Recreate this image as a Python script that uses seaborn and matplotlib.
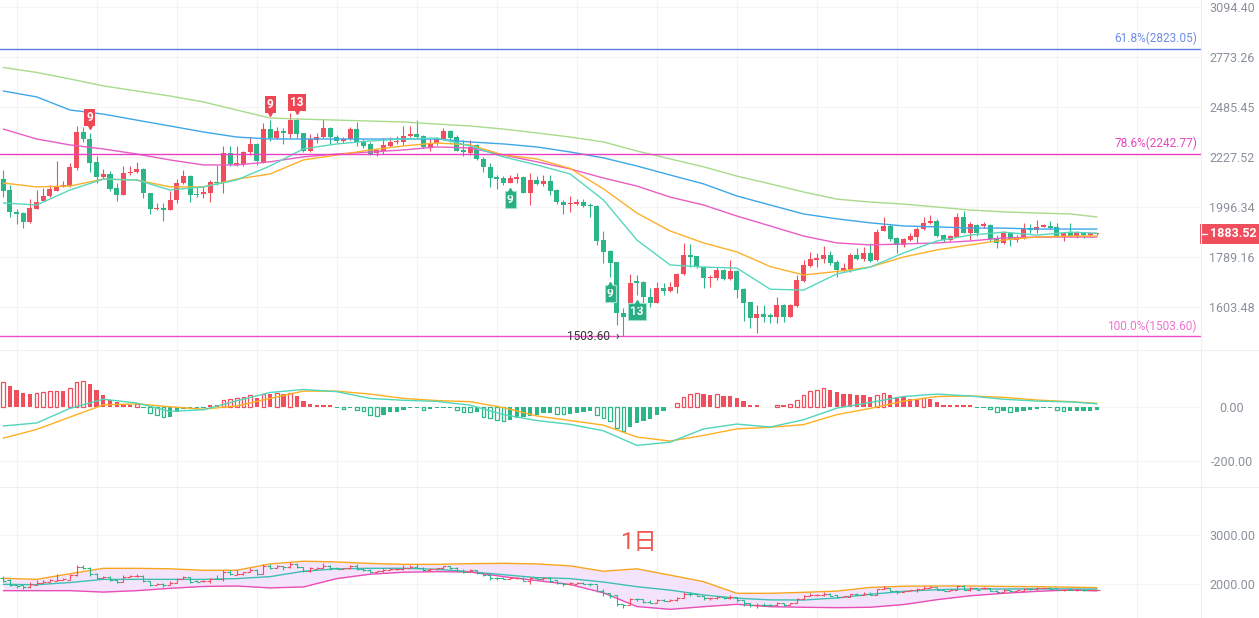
import numpy as np
import seaborn as sns
import matplotlib
matplotlib.use('Agg')
import matplotlib.pyplot as plt
import matplotlib.transforms as mtransforms
from matplotlib.ticker import NullLocator
from matplotlib.lines import Line2D
from matplotlib.patches import Rectangle

# ---------------------------------------
# daily candles
opens = [2122, 2072, 1974, 1970, 1932, 1988, 2022, 2045, 2068, 2086, 2090, 2175, 2353, 2317, 2204, 2131, 2145, 2081, 2050, 2150,
         2155, 2170, 2059, 1988, 1992, 1983, 2027, 2104, 2136, 2055, 2055, 2059, 2109, 2104, 2245, 2189, 2194, 2250, 2290, 2204,
         2368, 2322, 2358, 2343, 2415, 2348, 2257, 2312, 2327, 2374, 2327, 2307, 2317, 2368, 2302, 2290, 2245, 2258, 2282, 2300,
         2300, 2332, 2343, 2332, 2277, 2297, 2317, 2358, 2327, 2262, 2245, 2287, 2218, 2180, 2131, 2127, 2104, 2122, 2131, 2059,
         2118, 2100, 2113, 2072, 2018, 2009, 2009, 2018, 2004, 2000, 1857, 1813, 1769, 1583, 1569, 1697, 1694, 1640, 1618, 1671,
         1660, 1675, 1724, 1797, 1793, 1750, 1709, 1709, 1739, 1705, 1735, 1667, 1621, 1565, 1579, 1576, 1569, 1611, 1569, 1607,
         1697, 1754, 1777, 1781, 1797, 1769, 1735, 1739, 1797, 1781, 1805, 1777, 1894, 1915, 1865, 1837, 1857, 1869, 1903, 1928,
         1936, 1877, 1857, 1869, 1953, 1886, 1919, 1915, 1919, 1865, 1845, 1886, 1857, 1865, 1907, 1898, 1911, 1915, 1911, 1869,
         1886, 1873, 1886, 1877, 1880]
highs = [2165, 2095, 1987, 1974, 2032, 2072, 2081, 2095, 2209, 2113, 2199, 2384, 2379, 2348, 2233, 2170, 2160, 2104, 2184, 2184,
         2204, 2175, 2059, 2013, 2013, 2068, 2122, 2165, 2141, 2086, 2090, 2118, 2189, 2280, 2280, 2280, 2255, 2327, 2297, 2400,
         2415, 2379, 2374, 2452, 2426, 2348, 2343, 2348, 2420, 2379, 2337, 2327, 2379, 2405, 2317, 2300, 2267, 2322, 2327, 2332,
         2384, 2384, 2415, 2337, 2317, 2327, 2374, 2363, 2337, 2312, 2312, 2292, 2228, 2199, 2141, 2136, 2141, 2150, 2136, 2150,
         2136, 2141, 2141, 2077, 2027, 2045, 2032, 2032, 2013, 2004, 1894, 1817, 1769, 1600, 1724, 1720, 1697, 1671, 1694, 1690,
         1694, 1728, 1845, 1841, 1793, 1754, 1720, 1750, 1743, 1777, 1739, 1671, 1621, 1611, 1611, 1583, 1639, 1614, 1614, 1720,
         1777, 1809, 1805, 1833, 1813, 1777, 1765, 1805, 1825, 1829, 1845, 1903, 1953, 1923, 1869, 1865, 1886, 1911, 1953, 1962,
         1944, 1882, 1877, 1970, 1979, 1932, 1923, 1932, 1923, 1877, 1894, 1886, 1877, 1928, 1923, 1940, 1923, 1936, 1928, 1886,
         1928, 1894, 1890, 1886, 1886]
lows = [2040, 1953, 1923, 1906, 1928, 1988, 2022, 2040, 2068, 2086, 2086, 2165, 2302, 2155, 2104, 2122, 2068, 2022, 2050, 2141,
        2150, 2036, 1966, 1983, 1936, 1983, 2013, 2100, 2018, 2040, 2036, 2018, 2095, 2059, 2184, 2184, 2184, 2235, 2189, 2199,
        2307, 2317, 2292, 2322, 2322, 2252, 2252, 2297, 2322, 2292, 2297, 2297, 2312, 2282, 2272, 2235, 2230, 2240, 2277, 2290,
        2287, 2327, 2322, 2272, 2257, 2287, 2312, 2302, 2257, 2230, 2235, 2213, 2155, 2086, 2077, 2095, 2104, 2104, 2059, 2004,
        2095, 2090, 2050, 2009, 1966, 1975, 2004, 1996, 1953, 1837, 1765, 1712, 1541, 1503.6, 1565, 1646, 1614, 1604, 1618, 1646,
        1657, 1653, 1720, 1750, 1746, 1671, 1675, 1701, 1701, 1701, 1635, 1555, 1530, 1513, 1551, 1548, 1548, 1551, 1569, 1604,
        1694, 1750, 1750, 1765, 1758, 1712, 1731, 1731, 1777, 1773, 1769, 1773, 1894, 1853, 1805, 1829, 1853, 1845, 1898, 1923,
        1869, 1849, 1853, 1869, 1886, 1857, 1873, 1907, 1853, 1825, 1841, 1833, 1849, 1861, 1886, 1886, 1911, 1903, 1869, 1853,
        1869, 1865, 1865, 1869, 1877]
closes = [2068, 1974, 1966, 1932, 1992, 2018, 2045, 2076, 2090, 2095, 2180, 2353, 2317, 2199, 2131, 2145, 2077, 2050, 2150, 2155,
          2170, 2059, 1988, 1992, 1983, 2027, 2104, 2136, 2050, 2050, 2063, 2109, 2104, 2245, 2194, 2199, 2250, 2290, 2209, 2368,
          2322, 2358, 2348, 2415, 2343, 2257, 2317, 2327, 2374, 2327, 2307, 2317, 2368, 2302, 2282, 2240, 2262, 2285, 2302, 2307,
          2332, 2343, 2327, 2277, 2297, 2317, 2358, 2322, 2257, 2250, 2277, 2218, 2180, 2127, 2122, 2104, 2127, 2131, 2059, 2118,
          2100, 2113, 2068, 2018, 2004, 2013, 2018, 2000, 2000, 1853, 1809, 1765, 1583, 1569, 1690, 1690, 1640, 1618, 1671, 1660,
          1675, 1724, 1797, 1789, 1750, 1709, 1713, 1739, 1705, 1735, 1664, 1618, 1565, 1579, 1569, 1569, 1611, 1569, 1611, 1701,
          1758, 1781, 1785, 1797, 1765, 1739, 1746, 1797, 1781, 1805, 1773, 1890, 1915, 1861, 1837, 1861, 1873, 1903, 1928, 1936,
          1873, 1857, 1873, 1953, 1886, 1923, 1886, 1923, 1861, 1845, 1886, 1861, 1869, 1903, 1898, 1911, 1919, 1907, 1869, 1886,
          1873, 1886, 1877, 1886, 1883.52]

# MACD histogram, one value per candle
macd_hist = [89, 77, 61, 50, 46, 49, 52, 57, 58, 56, 67, 89, 96, 83, 61, 43, 24, 15, 6, 5,
             8, -4, -24, -33, -39, -37, -22, -10, -7, -7, -6, 6, 6, 24, 27, 30, 34, 41, 33, 46,
             45, 50, 46, 49, 40, 21, 10, 6, 6, 6, -4, -8, -7, -12, -18, -30, -34, -30, -22, -21,
             -12, -7, -6, -12, -10, -7, -6, -6, -12, -21, -22, -20, -37, -43, -49, -52, -49, -43, -37, -36,
             -30, -24, -24, -28, -29, -28, -24, -21, -18, -33, -43, -52, -79, -89, -77, -61, -55, -46, -33, -18,
             -3, 12, 34, 46, 49, 46, 43, 46, 39, 39, 30, 21, 6, 6, -3, -3, 6, 6, 10, 24,
             43, 57, 63, 67, 61, 52, 46, 46, 44, 43, 34, 43, 49, 43, 34, 34, 27, 27, 30, 27,
             16, 6, 6, 6, 6, 6, -4, -4, -10, -21, -18, -21, -21, -15, -12, -10, -7, -7, -12, -15,
             -15, -15, -15, -15, -12]

# indicator lines, sampled every 5 candles
line_idx = [0, 5, 10, 15, 20, 25, 30, 35, 40, 45, 50, 55, 60, 65, 70, 75, 80, 85, 90, 95,
            100, 105, 110, 115, 120, 125, 130, 135, 140, 145, 150, 155, 160, 164]
ma_teal = [2014, 2005, 2072, 2122, 2118, 2072, 2086, 2118, 2184, 2267, 2292, 2307, 2317, 2322, 2282, 2228, 2189, 2146, 2027, 1857,
           1758, 1750, 1746, 1667, 1664, 1724, 1750, 1805, 1853, 1877, 1889, 1877, 1889, 1885]
ma_orange = [2104, 2086, 2090, 2122, 2118, 2086, 2086, 2122, 2146, 2213, 2237, 2262, 2282, 2297, 2287, 2237, 2218, 2172, 2077, 1970,
             1894, 1845, 1809, 1752, 1720, 1733, 1750, 1789, 1817, 1837, 1857, 1869, 1873, 1873]
ma_pink = [2368, 2317, 2287, 2267, 2242, 2213, 2189, 2189, 2204, 2228, 2242, 2252, 2262, 2277, 2272, 2237, 2204, 2170, 2127, 2090,
           2040, 2005, 1957, 1915, 1873, 1845, 1837, 1841, 1845, 1853, 1865, 1869, 1869, 1869]
ma_blue = [2574, 2541, 2469, 2447, 2415, 2384, 2353, 2327, 2317, 2317, 2317, 2317, 2317, 2317, 2302, 2292, 2277, 2252, 2223, 2184,
           2141, 2100, 2045, 2005, 1966, 1945, 1928, 1915, 1911, 1906, 1906, 1902, 1902, 1902]
ma_green = [2710, 2681, 2643, 2603, 2574, 2546, 2513, 2469, 2426, 2420, 2415, 2410, 2405, 2394, 2384, 2368, 2348, 2327, 2302, 2257,
            2218, 2180, 2136, 2100, 2063, 2031, 2018, 2009, 1996, 1983, 1975, 1970, 1966, 1953]

dif = [-72, -61, -7, 27, 13, -18, -12, 21, 52, 63, 55, 30, 23, 19, 5, -30, -52, -66, -90, -144,
       -132, -83, -65, -76, -49, -6, 15, 37, 46, 39, 27, 20, 17, 10]
dea = [-117, -85, -39, 6, 10, -1, -10, 2, 30, 57, 57, 46, 30, 22, 18, -4, -35, -52, -69, -113,
       -128, -107, -83, -77, -67, -30, -7, 20, 37, 39, 34, 24, 18, 12]

boll_upper = [2116, 2095, 2210, 2320, 2320, 2310, 2280, 2280, 2410, 2465, 2450, 2420, 2401, 2401, 2415, 2422, 2410, 2370, 2260, 2310,
              2180, 2048, 1810, 1810, 1830, 1855, 1930, 1955, 1959, 1959, 1950, 1946, 1935, 1925]
boll_mid = [1993, 1985, 2030, 2095, 2095, 2095, 2095, 2110, 2150, 2260, 2310, 2320, 2320, 2300, 2250, 2190, 2130, 2110, 2040, 1945,
            1875, 1776, 1710, 1676, 1673, 1715, 1790, 1850, 1885, 1898, 1898, 1900, 1898, 1895]
boll_lower = [1864, 1864, 1864, 1835, 1864, 1912, 1950, 1959, 1920, 1940, 2110, 2200, 2240, 2252, 2245, 2150, 2070, 1990, 1820, 1540,
              1483, 1537, 1585, 1537, 1525, 1517, 1525, 1580, 1680, 1760, 1810, 1850, 1878, 1860]

fib_names = ['61.8%', '78.6%', '100.0%']
fib_values = [2823.05, 2242.77, 1503.60]

main_ticks = [3094.40, 2773.26, 2485.45, 2227.52, 1996.34, 1789.16, 1603.48]
macd_ticks = [0.0, -200.0]
boll_ticks = [3000.0, 2000.0]

td_top_idx = [13, 40, 44]
td_top_txt = ['9', '9', '13']
td_bot_idx = [76, 91, 95]
td_bot_txt = ['9', '9', '13']

last_price = 1883.52
low_idx = 93

# ---------------------------------------
RED = '#f04e5c'
GREEN = '#2bb68a'
GRID = '#f4f4f4'
LABEL = '#8a919b'

sns.set_theme(style='white')
plt.rcParams['font.family'] = ['Roboto', 'Noto Sans CJK SC', 'DejaVu Sans']

W, H = 1259, 618
fig = plt.figure(figsize=(W / 100, H / 100), dpi=100)
fig.patch.set_facecolor('white')


def panel(top, bottom, right=1201):
    return fig.add_axes([0, 1 - bottom / H, right / W, (bottom - top) / H])


ax = panel(0, 350)
ax_macd = panel(350, 487)
ax_boll = panel(487, 618)

x = np.arange(len(closes))
o = np.array(opens, dtype=float)
c = np.array(closes, dtype=float)
hi = np.array(highs, dtype=float)
lo = np.array(lows, dtype=float)
up = c >= o
cols = np.where(up, RED, GREEN)
xlim = (-0.495, 179.6)

for a in (ax, ax_macd, ax_boll):
    a.set_xlim(*xlim)
    for s in a.spines.values():
        s.set_visible(False)
    a.set_xticks(np.arange(2, 180, 12))
    a.tick_params(axis='x', length=0, labelbottom=False)
    a.grid(True, color=GRID, lw=0.8)
    a.set_axisbelow(True)
    a.yaxis.tick_right()
    a.tick_params(axis='y', length=0, pad=22.3, labelcolor=LABEL, labelsize=9)

# ---------------------------------------
# main candlestick panel (log price scale)
ax.set_yscale('log')
ax.set_ylim(1459.1, 3142.2)
ax.yaxis.set_minor_locator(NullLocator())
ax.set_yticks(main_ticks)
ax.set_yticklabels([f'{v:.2f}' for v in main_ticks])

ax.vlines(x, lo, hi, colors=cols, lw=0.8, zorder=2)
body_lo = np.minimum(o, c)
body_h = np.maximum(np.abs(c - o), body_lo * 0.0025)
ax.bar(x, body_h, bottom=body_lo, width=0.75, color=cols, linewidth=0, zorder=2)

for vals, colr in [(ma_green, '#a8db8c'), (ma_blue, '#3ea7e8'), (ma_pink, '#ea5cc6'),
                   (ma_orange, '#fdb02a'), (ma_teal, '#56d7bf')]:
    sns.lineplot(x=line_idx, y=vals, ax=ax, color=colr, linewidth=1.0, zorder=3)

fib_line_cols = ['#5b7be6', '#ea3fc2', '#ee4cc8']
fib_text_cols = ['#6d8de8', '#e548bf', '#ef72d3']
blend = mtransforms.blended_transform_factory(ax.transAxes, ax.transData)
for name, v, lc, tc in zip(fib_names, fib_values, fib_line_cols, fib_text_cols):
    ax.axhline(v, color=lc, lw=1.0, zorder=3)
    ax.annotate(f'{name}({v:.2f})', xy=(0.9967, v), xycoords=blend, xytext=(0, 2.5),
                textcoords='offset points', ha='right', va='bottom', fontsize=8.6, color=tc)

# TD sequential counts
for i, t in zip(td_top_idx, td_top_txt):
    ax.annotate(t, xy=(i, hi[i]), xytext=(0, 6.5), textcoords='offset points', ha='center', va='bottom',
                fontsize=8.5, color='white', fontweight='bold', zorder=5,
                bbox=dict(boxstyle='square,pad=0.18', fc='#ee4655', ec='none'))
    tr = mtransforms.offset_copy(ax.transData, fig=fig, x=0, y=5.2, units='points')
    ax.plot(i, hi[i], marker='v', ms=4, color='#ee4655', transform=tr, zorder=5)
for i, t in zip(td_bot_idx, td_bot_txt):
    ax.annotate(t, xy=(i, lo[i]), xytext=(0, -7), textcoords='offset points', ha='center', va='top',
                fontsize=8.5, color='white', fontweight='bold', zorder=5,
                bbox=dict(boxstyle='square,pad=0.18', fc='#28ad84', ec='#9fe3cc', lw=0.8))
    tr = mtransforms.offset_copy(ax.transData, fig=fig, x=0, y=-5.5, units='points')
    ax.plot(i, lo[i], marker='^', ms=4, color='#28ad84', transform=tr, zorder=5)

ax.annotate(f'{lo[low_idx]:.2f}  \u203a', xy=(low_idx, lo[low_idx]), xytext=(-3, 0), textcoords='offset points',
            ha='right', va='center', fontsize=8.6, color='#333333', zorder=6)

# current price tag
py = H - 233.5
fig.add_artist(Rectangle((1200 / W, (py - 10) / H), 59 / W, 20 / H, transform=fig.transFigure,
                         facecolor=RED, edgecolor='none'))
fig.add_artist(Line2D([1202 / W, 1207 / W], [py / H, py / H], transform=fig.transFigure, color='white', lw=1))
fig.text(1233 / W, py / H, f'{last_price:.2f}', ha='center', va='center', color='white',
         fontsize=9, fontweight='bold')

# ---------------------------------------
# MACD panel
ax_macd.set_ylim(-298.1, 209.3)
ax_macd.set_yticks(macd_ticks)
ax_macd.set_yticklabels([f'{v:.2f}' for v in macd_ticks])
hist = np.array(macd_hist, dtype=float)
prev = np.concatenate([[0.0], hist[:-1]])
hollow = np.abs(hist) > np.abs(prev)
hcols = np.where(hist >= 0, RED, GREEN)
ax_macd.bar(x[~hollow], hist[~hollow], width=0.65, color=hcols[~hollow], linewidth=0, zorder=2)
ax_macd.bar(x[hollow], hist[hollow], width=0.55, facecolor='white', edgecolor=hcols[hollow],
            linewidth=0.9, zorder=2)
sns.lineplot(x=line_idx, y=dea, ax=ax_macd, color='#ffb020', linewidth=1.0, zorder=3)
sns.lineplot(x=line_idx, y=dif, ax=ax_macd, color='#4fd6bb', linewidth=1.0, zorder=3)

# ---------------------------------------
# Bollinger panel
ax_boll.set_ylim(1306, 3980)
ax_boll.set_yticks(boll_ticks)
ax_boll.set_yticklabels([f'{v:.2f}' for v in boll_ticks])
ax_boll.fill_between(line_idx, boll_lower, boll_upper, color='#f4e4fb', linewidth=0, zorder=1)
sns.lineplot(x=line_idx, y=boll_upper, ax=ax_boll, color='#f8a51e', linewidth=1.0, zorder=3)
sns.lineplot(x=line_idx, y=boll_mid, ax=ax_boll, color='#3dbfb4', linewidth=1.0, zorder=3)
sns.lineplot(x=line_idx, y=boll_lower, ax=ax_boll, color='#e94db8', linewidth=1.0, zorder=3)
ax_boll.vlines(x, lo, hi, colors=cols, lw=0.8, zorder=4)
ax_boll.hlines(o, x - 0.45, x, colors=cols, lw=0.8, zorder=4)
ax_boll.hlines(c, x, x + 0.45, colors=cols, lw=0.8, zorder=4)
ax_boll.text(0.532, 0.58, '1日', transform=ax_boll.transAxes, ha='center', va='center',
             fontsize=17, color='#ef5a50', family=['Roboto', 'Noto Sans CJK SC', 'DejaVu Sans'])

for a in (ax, ax_macd, ax_boll):
    for t in a.get_yticklabels():
        t.set_horizontalalignment('center')
    a.set_xlabel('')
    a.set_ylabel('')

# panel separators and right border
for yy in (350, 487):
    fig.add_artist(Line2D([0, 1], [1 - yy / H] * 2, transform=fig.transFigure, color='#efefef', lw=0.8))
fig.add_artist(Line2D([1201 / W] * 2, [0, 1], transform=fig.transFigure, color='#efefef', lw=0.8))

fig.savefig('out.png', dpi=100)
